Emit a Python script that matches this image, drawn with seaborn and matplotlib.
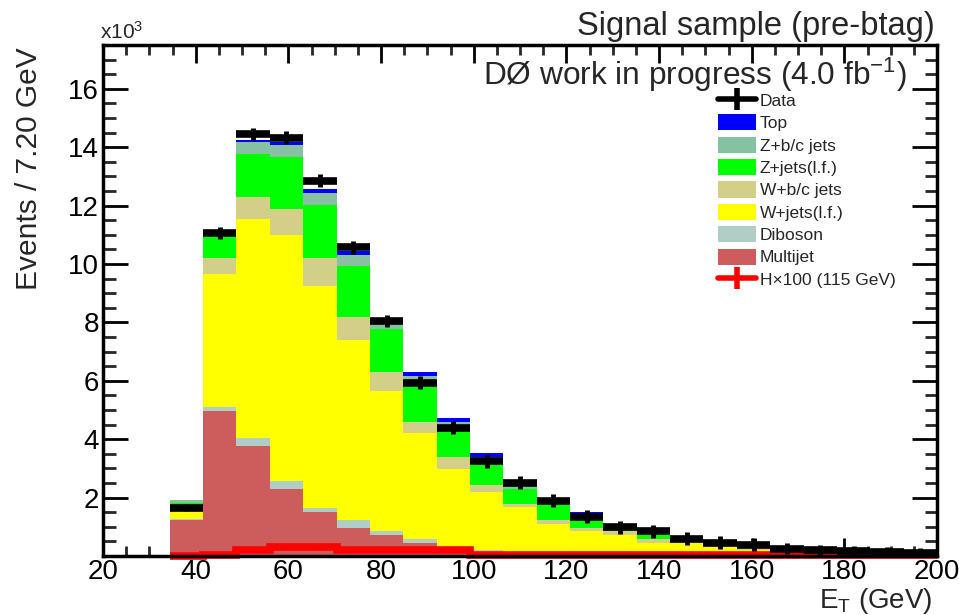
import numpy as np
import pandas as pd
import matplotlib
matplotlib.use("Agg")
import matplotlib.pyplot as plt
from matplotlib.ticker import MultipleLocator, FixedLocator
from matplotlib.patches import Patch
from matplotlib.lines import Line2D
import seaborn as sns

# ---------------- data (units of 10^3 events / 7.2 GeV) ----------------
bin_edges = [20.0, 27.2, 34.4, 41.6, 48.8, 56.0, 63.2, 70.4, 77.6, 84.8, 92.0, 99.2,
             106.4, 113.6, 120.8, 128.0, 135.2, 142.4, 149.6, 156.8, 164.0, 171.2,
             178.4, 185.6, 192.8, 200.0]

multijet = [0, 0, 1.24, 4.96, 3.77, 2.30, 1.51, 0.96, 0.72, 0.45, 0.22, 0.15, 0.10,
            0.07, 0.05, 0.03, 0.02, 0.02, 0.01, 0.01, 0.01, 0, 0, 0, 0]
diboson = [0, 0, 0.02, 0.14, 0.27, 0.27, 0.14, 0.28, 0.14, 0.14, 0.09, 0.07, 0.05,
           0.03, 0.03, 0.02, 0.02, 0.01, 0.01, 0.01, 0, 0.01, 0.01, 0, 0]
wjets_lf = [0, 0, 0.25, 4.55, 7.49, 8.41, 7.59, 6.15, 4.80, 3.61, 2.68, 1.98, 1.52,
            1.00, 0.79, 0.67, 0.41, 0.42, 0.29, 0.20, 0.14, 0.11, 0.08, 0.07, 0.05]
wbb = [0, 0, 0.11, 0.55, 0.78, 0.92, 0.96, 0.80, 0.64, 0.40, 0.41, 0.23, 0.11,
       0.14, 0.09, 0.14, 0.14, 0.05, 0.05, 0.04, 0.03, 0.02, 0.01, 0.01, 0.01]
zjets_lf = [0, 0, 0.20, 0.78, 1.47, 1.75, 1.83, 1.73, 1.47, 1.20, 0.91, 0.69, 0.52,
            0.54, 0.28, 0.09, 0.13, 0.05, 0.04, 0.02, 0.02, 0.01, 0.01, 0.01, 0.01]
zbb = [0, 0, 0.10, 0.07, 0.41, 0.41, 0.40, 0.38, 0.16, 0.35, 0.28, 0.26, 0.13,
       0.07, 0.16, 0.03, 0.06, 0.02, 0.02, 0.01, 0.01, 0.01, 0.01, 0, 0]
top = [0, 0, 0.01, 0.03, 0.06, 0.13, 0.14, 0.13, 0.07, 0.15, 0.13, 0.15, 0.07,
       0.03, 0.11, 0.02, 0.02, 0.01, 0.01, 0.01, 0.01, 0.01, 0.01, 0.01, 0.01]

data_vals = [np.nan, np.nan, 1.65, 11.06, 14.45, 14.32, 12.85, 10.57, 8.05, 5.93, 4.39,
             3.25, 2.51, 1.89, 1.35, 0.99, 0.85, 0.59, 0.45, 0.38, 0.25, 0.20, 0.17,
             0.12, 0.10]
data_err = [np.nan, np.nan, 0.12, 0.22, 0.22, 0.22, 0.22, 0.22, 0.22, 0.22, 0.22,
            0.22, 0.22, 0.22, 0.22, 0.22, 0.22, 0.22, 0.22, 0.22, 0.18, 0.18, 0.18,
            0.18, 0.18]
higgs_x100 = [np.nan, np.nan, 0.0, 0.05, 0.20, 0.31, 0.31, 0.20, 0.20, 0.20, 0.20,
              0.05, 0.05, 0.05, 0.05, 0.05, 0.05, 0.05, 0.05, 0.05, 0.05, 0.05,
              0.05, 0.05, 0.05]

process_names = ["Top", "Z+b/c jets", "Z+jets(l.f.)", "W+b/c jets", "W+jets(l.f.)",
                 "Diboson", "Multijet"]
process_values = [top, zbb, zjets_lf, wbb, wjets_lf, diboson, multijet]
process_colors = ["#0000FF", "#86C1A2", "#00FF00", "#D3CE88", "#FFFF00",
                  "#B0CEC5", "#CD5C5C"]

ylabel_text = "Events / 7.20 GeV"
xlabel_text = "E$_{T}$ (GeV)"
title_text = "Signal sample (pre-btag)"
exp_text = "DØ work in progress (4.0 fb$^{-1}$)"
higgs_label = "H×100 (115 GeV)"

# ---------------- build long table ----------------
edges = np.array(bin_edges)
centers = 0.5 * (edges[:-1] + edges[1:])
halfw = 0.5 * np.diff(edges)
rows = []
for name, vals in zip(process_names, process_values):
    for c, v in zip(centers, vals):
        rows.append({"ET": float(c), "w": v, "process": name})
df = pd.DataFrame(rows)
palette = dict(zip(process_names, process_colors))

# ---------------- style ----------------
sns.set_theme(style="white")
plt.rcParams["font.family"] = ["Liberation Sans", "DejaVu Sans"]
plt.rcParams["mathtext.fontset"] = "custom"
plt.rcParams["mathtext.rm"] = "Liberation Sans"
plt.rcParams["mathtext.it"] = "Liberation Sans:italic"
plt.rcParams["mathtext.default"] = "regular"

fig = plt.figure(figsize=(9.59, 6.15), dpi=100)
W, H = 959.0, 615.0
ax = fig.add_axes([103 / W, 1 - 556 / H, 834 / W, 511 / H])

sns.histplot(data=df, x="ET", weights="w", hue="process", hue_order=process_names,
             palette=palette, multiple="stack", bins=list(bin_edges), element="bars",
             linewidth=0, alpha=1, legend=False, ax=ax, shrink=1)

# Higgs x100 signal
hv = np.array(higgs_x100)
mask = ~np.isnan(hv)
first = int(np.argmax(mask))
ax.stairs(hv[first:], edges[first:], baseline=None, color="#FF0000", lw=5.5,
          clip_on=False, zorder=4)

# Data
dv = np.array(data_vals)
ax.errorbar(centers, dv, xerr=halfw, fmt="none", ecolor="black", elinewidth=5.5,
            capsize=0, zorder=5)
ax.errorbar(centers, dv, yerr=np.array(data_err), fmt="none", ecolor="black",
            elinewidth=3.5, capsize=0, zorder=5)

ax.set_xlim(20, 200)
ax.set_ylim(0, 17.5)

# ticks
ax.xaxis.set_major_locator(FixedLocator(np.arange(20, 201, 20)))
ax.xaxis.set_minor_locator(MultipleLocator(5))
ax.yaxis.set_major_locator(FixedLocator(np.arange(2, 17, 2)))
ax.yaxis.set_minor_locator(MultipleLocator(0.5))
ax.tick_params(axis="x", which="major", direction="in", length=13, width=2,
               top=True, bottom=True, labelsize=20, pad=2, colors="black")
ax.tick_params(axis="x", which="minor", direction="in", length=7, width=2,
               top=True, bottom=True)
ax.tick_params(axis="y", which="major", direction="in", length=18, width=2,
               left=True, right=True, labelsize=20, pad=3, colors="black")
ax.tick_params(axis="y", which="minor", direction="in", length=9, width=2,
               left=True, right=True)
for s in ax.spines.values():
    s.set_linewidth(2.5)
    s.set_color("black")
    s.set_zorder(6)

ax.set_xlabel(xlabel_text, fontsize=20, loc="right")
ax.xaxis.set_label_coords(0.994, -0.058)
ax.set_ylabel(ylabel_text, fontsize=21.5, loc="top")
ax.yaxis.set_label_coords(-0.072, 0.995)

fig.text(935 / W, 1 - 27 / H, title_text, ha="right", va="center", fontsize=23.5)
fig.text(483 / W, 1 - 75 / H, exp_text, ha="left", va="center", fontsize=22.8)
fig.text(100 / W, 1 - 32 / H, "x10$^{3}$", ha="left", va="center", fontsize=15)

# legend
handles = [Line2D([0], [0], color="black", lw=4, marker="|", markersize=16, mew=4)]
labels = ["Data"]
for name, col in zip(process_names, process_colors):
    handles.append(Patch(facecolor=col, edgecolor="none"))
    labels.append(name)
handles.append(Line2D([0], [0], color="#FF0000", lw=4, marker="|", markersize=16, mew=4))
labels.append(higgs_label)
leg = fig.legend(handles, labels, loc="upper left", bbox_to_anchor=(718 / W, 1 - 92 / H),
                 frameon=False, fontsize=12.5, borderpad=0, borderaxespad=0,
                 handlelength=2.16, handleheight=1.05, handletextpad=0.25,
                 labelspacing=0.31)

fig.savefig("out.png", dpi=100)
